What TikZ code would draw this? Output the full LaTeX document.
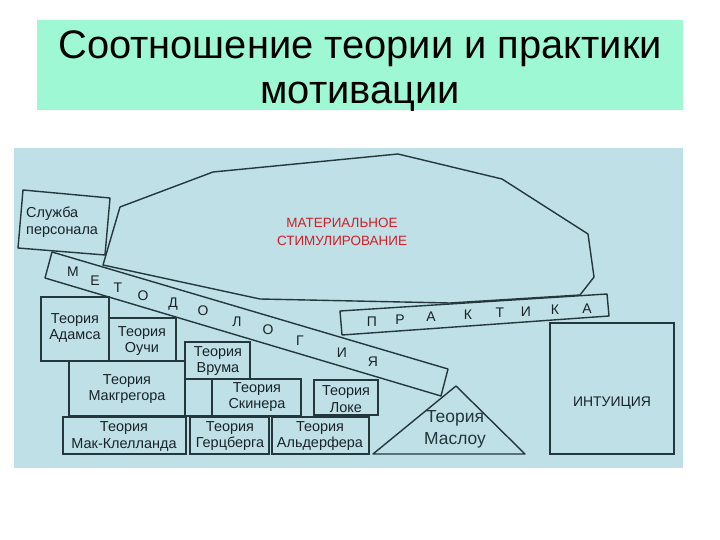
\documentclass[tikz,border=0pt]{standalone}
\usepackage{fontspec}
\setmainfont{Liberation Sans}
\newfontfamily\titlefont{Liberation Sans}
\definecolor{titlebg}{RGB}{158,248,212}
\definecolor{panelbg}{RGB}{190,224,230}
\definecolor{edge}{RGB}{35,55,60}
\definecolor{redtxt}{RGB}{210,30,40}
\definecolor{dtxt}{RGB}{25,35,40}
\tikzset{
  outline/.style={draw=edge, line width=1.4pt, line join=round},
  box/.style={draw=edge, line width=1.3pt},
  txt/.style={inner sep=0pt, align=center, text=dtxt, font=\fontsize{14.5}{17}\selectfont},
  let/.style={inner sep=0pt, text=dtxt, font=\fontsize{14}{15}\selectfont},
}
\begin{document}
\begin{tikzpicture}[x=1bp,y=-1bp]
\useasboundingbox (0,0) rectangle (720,540);
\fill[white] (0,0) rectangle (720,540);
% title
\fill[titlebg] (37,20) rectangle (683,110);
\node[inner sep=0pt, align=center, font=\titlefont\fontsize{40}{45}\selectfont] (title) at (360,71)
  {Соотношение теории и практики\\мотивации};
% panel
\fill[panelbg] (14,148) rectangle (683,468);
% material stimulation polygon
\draw[outline, fill=panelbg] (120,207) -- (213,172) -- (398,154) -- (502,179) -- (588,234) -- (594,277)
  -- (580,295) -- (450,303) -- (260,299) -- (103,265) -- cycle;
\node[inner sep=0pt, align=center, text=redtxt, font=\fontsize{13.5}{18}\selectfont] (mat) at (342,232)
  {МАТЕРИАЛЬНОЕ\\СТИМУЛИРОВАНИЕ};
% personnel service box
\draw[outline, fill=panelbg] (23,190) -- (110,198) -- (105,255) -- (18,248) -- cycle;
\node[txt, align=left, anchor=west] (sluzhba) at (26,222) {Служба\\персонала};
% methodology band
\draw[outline, fill=panelbg] (52,252) -- (448,369) -- (441,396) -- (45,278) -- cycle;
\foreach \ch/\x/\y [count=\i] in {М/73/272, Е/95/281, Т/118/288, О/143/296, Д/173/304, О/203/311,
  Л/237/322, О/268/330, Г/300/341, И/342/353, Я/373/362}
  \node[let] (met\i) at (\x,\y) {\ch};
% practice band
\draw[outline, fill=panelbg] (340,311) -- (607,294) -- (609,316) -- (342,335) -- cycle;
\foreach \ch/\x/\y [count=\i] in {П/372/322, Р/400/320, А/431/317, К/468/315, Т/500/313, И/526/312, К/555/310, А/587/309}
  \node[let] (pr\i) at (\x,\y) {\ch};
% theory boxes
\draw[box] (41,297) rectangle (109,361);
\node[txt] (adams) at (75,328) {Теория\\Адамса};
\draw[box] (109,318) rectangle (176,361);
\node[txt] (ouchi) at (142,341) {Теория\\Оучи};
\draw[box] (185,342) rectangle (250,379);
\node[txt] (vroom) at (218,361) {Теория\\Врума};
\draw[box] (69,361) rectangle (185,416);
\node[txt] (mcgregor) at (127,389) {Теория\\Макгрегора};
\draw[box] (185,379) rectangle (212,416);
\draw[box] (212,379) rectangle (301,416);
\node[txt] (skinner) at (257,397) {Теория\\Скинера};
\draw[box] (314,380) rectangle (378,415);
\node[txt] (locke) at (346,399) {Теория\\Локе};
\draw[box] (63,417) rectangle (186,454);
\node[txt] (mcclelland) at (124,436) {Теория\\Мак-Клелланда};
\draw[box] (190,417) rectangle (269,454);
\node[txt] (herzberg) at (230,436) {Теория\\Герцберга};
\draw[box] (272,417) rectangle (369,454);
\node[txt] (alderfer) at (320,436) {Теория\\Альдерфера};
% Maslow triangle
\draw[outline] (373,454) -- (456,386) -- (525,454) -- cycle;
\node[txt, font=\fontsize{17.5}{22}\selectfont, text=edge] (maslow) at (455,429) {Теория\\Маслоу};
% intuition box
\draw[box] (550,323) rectangle (674,454);
\node[txt, font=\fontsize{14}{17}\selectfont] (intuition) at (612,403) {ИНТУИЦИЯ};
\end{tikzpicture}
\end{document}
